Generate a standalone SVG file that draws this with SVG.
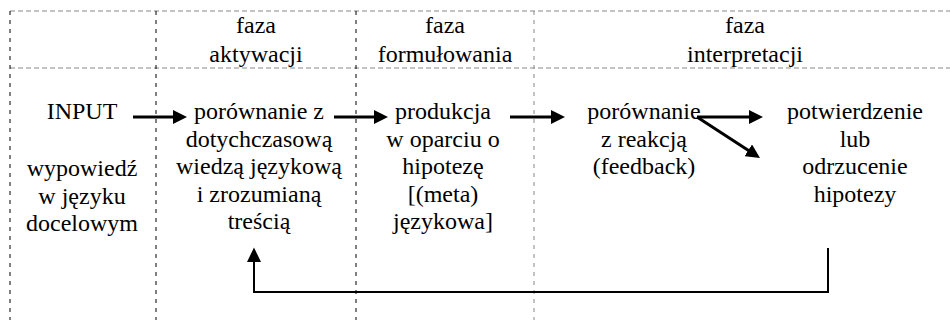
<svg xmlns="http://www.w3.org/2000/svg" width="950" height="320" viewBox="0 0 950 320">
<style>
text{font-family:'Liberation Serif','DejaVu Serif',serif;font-size:24px;fill:#000;text-anchor:middle}
.gh{stroke:#888;stroke-width:1;stroke-dasharray:5,3;fill:none}
.gv{stroke:#000;stroke-width:1;stroke-dasharray:4,5;fill:none}
.gvl{stroke:#888;stroke-width:1;stroke-dasharray:4,5;fill:none}
.a{stroke:#000;stroke-width:3;fill:none}
.fb{stroke:#000;stroke-width:2;fill:none}
</style>
<defs>
<marker id="ah" markerUnits="userSpaceOnUse" markerWidth="14" markerHeight="14" refX="4" refY="7" orient="auto">
<path d="M0,0 L14,7 L0,14 z" fill="#000"/>
</marker>
</defs>
<rect width="950" height="320" fill="#fff"/>
<g id="grid">
<line class="gh" x1="10" y1="11" x2="950" y2="11"/>
<line class="gh" x1="10" y1="68" x2="950" y2="68"/>
<line class="gv" x1="10" y1="11" x2="10" y2="320"/>
<line class="gv" x1="156" y1="11" x2="156" y2="320"/>
<line class="gv" x1="356" y1="11" x2="356" y2="320"/>
<line class="gvl" x1="534" y1="11" x2="534" y2="320"/>
</g>
<g font-family="Liberation Serif, DejaVu Serif, serif" font-size="24" text-anchor="middle">
<g id="headers">
<text x="256" y="33">faza</text>
<text x="256" y="61.5">aktywacji</text>
<text x="445" y="33">faza</text>
<text x="445" y="61.5">formułowania</text>
<text x="745" y="33">faza</text>
<text x="745" y="61.5">interpretacji</text>
</g>
<g id="input">
<text x="82" y="119">INPUT</text>
<text x="82" y="176">wypowiedź</text>
<text x="82" y="203.5">w języku</text>
<text x="82" y="231">docelowym</text>
</g>
<g id="porownanie1">
<text x="259" y="119">porównanie z</text>
<text x="259" y="146.5">dotychczasową</text>
<text x="259" y="174">wiedzą językową</text>
<text x="259" y="201.5">i zrozumianą</text>
<text x="259" y="229">treścią</text>
</g>
<g id="produkcja">
<text x="443" y="119">produkcja</text>
<text x="443" y="146.5">w oparciu o</text>
<text x="443" y="174">hipotezę</text>
<text x="443" y="201.5">[(meta)</text>
<text x="443" y="229">językowa]</text>
</g>
<g id="porownanie2">
<text x="644" y="119">porównanie</text>
<text x="644" y="146.5">z reakcją</text>
<text x="644" y="174">(feedback)</text>
</g>
<g id="potwierdzenie">
<text x="855" y="119">potwierdzenie</text>
<text x="855" y="146.5">lub</text>
<text x="855" y="174">odrzucenie</text>
<text x="855" y="201.5">hipotezy</text>
</g>
</g>
<g id="connectors">
<line class="a" x1="133" y1="117" x2="177" y2="117" marker-end="url(#ah)"/>
<line class="a" x1="334" y1="117" x2="378" y2="117" marker-end="url(#ah)"/>
<line class="a" x1="510" y1="117" x2="555" y2="117" marker-end="url(#ah)"/>
<line class="a" x1="697" y1="117" x2="753" y2="117" marker-end="url(#ah)"/>
<line class="a" x1="697" y1="117" x2="751.6" y2="152.5" marker-end="url(#ah)"/>
<polyline class="fb" points="828,248 828,292 254,292 254,260"/>
<polygon points="254,247.5 247,262 261,262" fill="#000"/>
</g>
</svg>
